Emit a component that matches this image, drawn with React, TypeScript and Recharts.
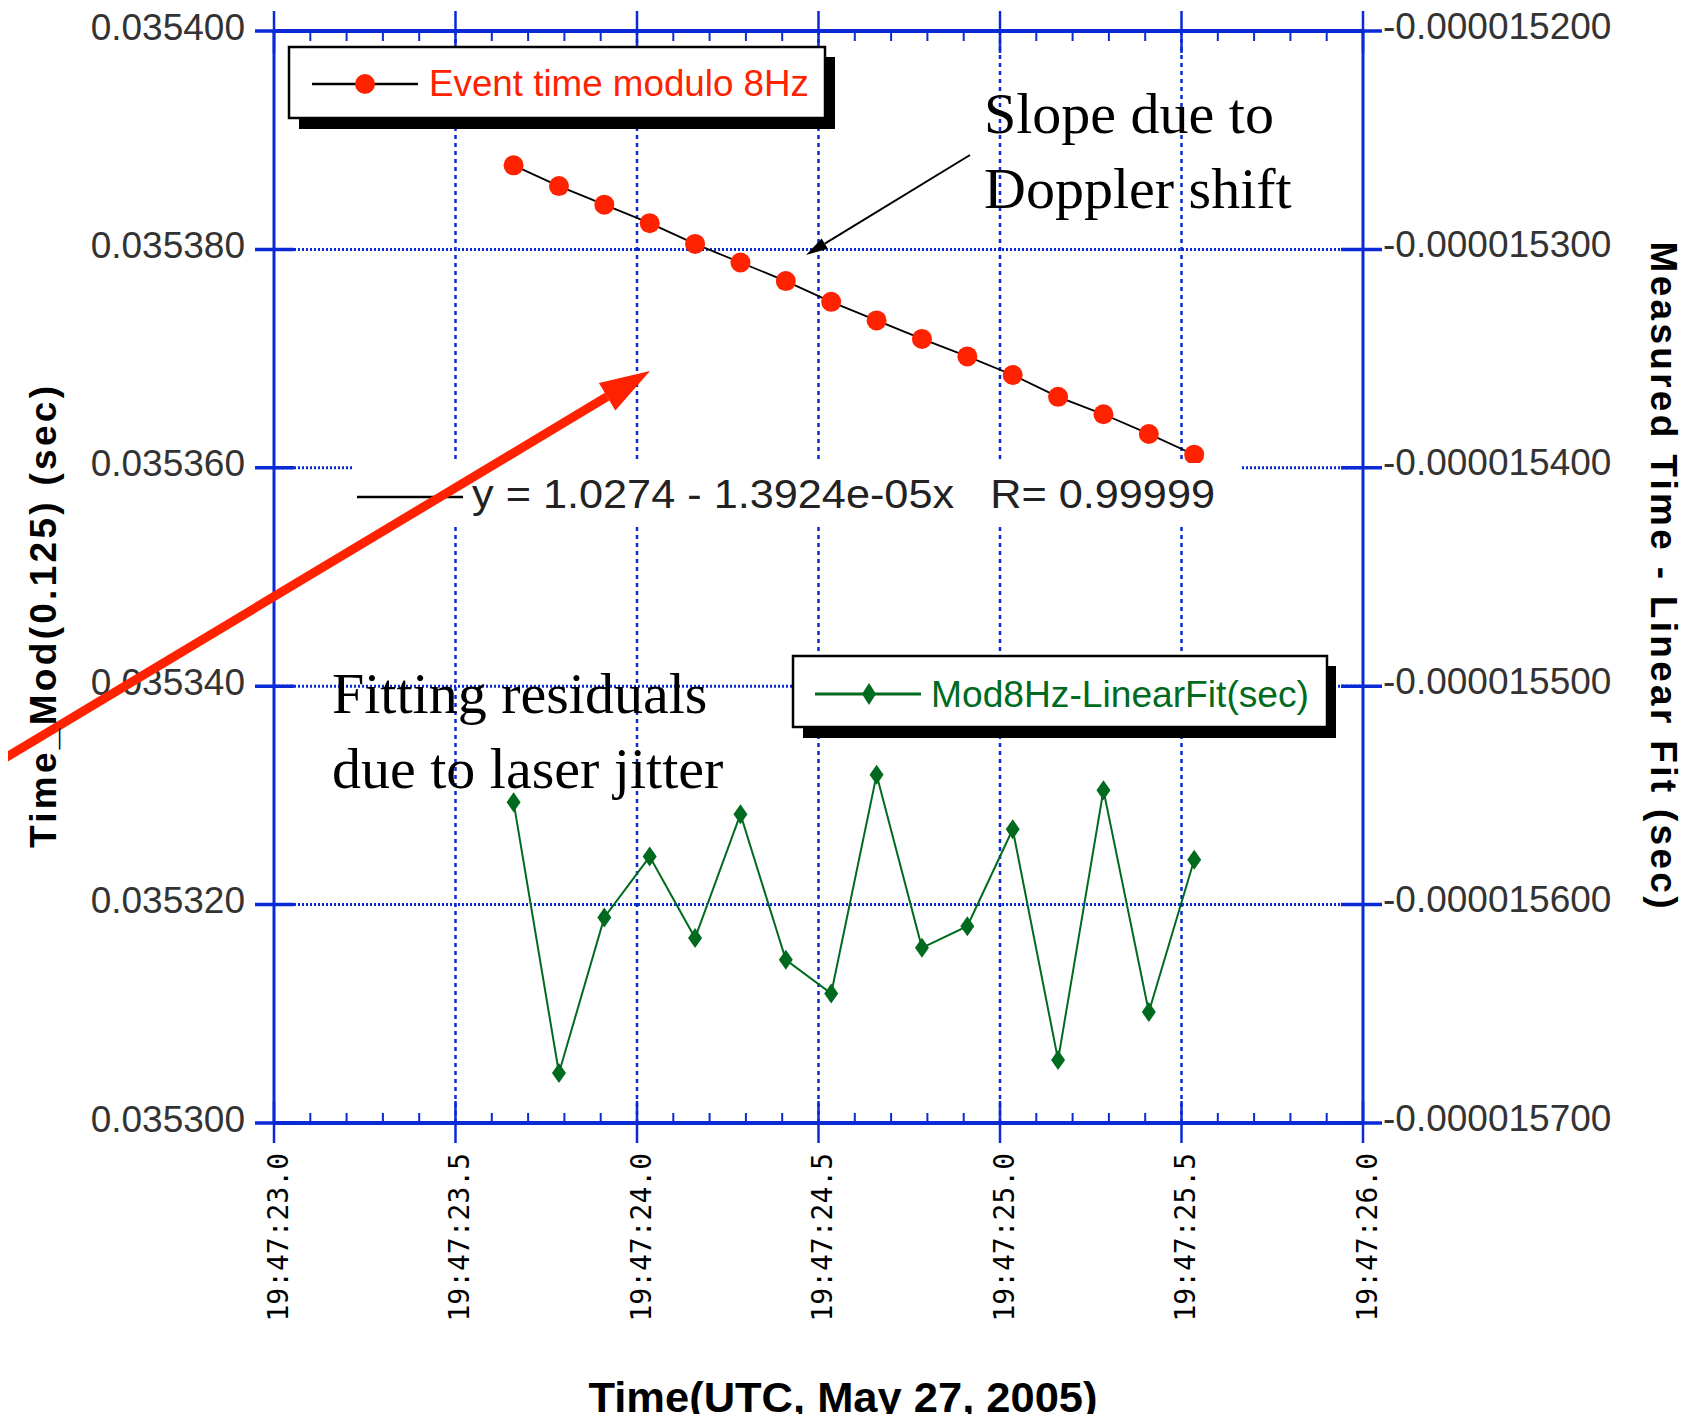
import { ComposedChart, Line, XAxis, YAxis, ReferenceLine } from 'recharts';

const BLUE = '#0a2ad6';
const RED = '#ff2200';
const GREEN = '#006b1e';
const SANS = '"Liberation Sans", Arial, Helvetica, sans-serif';
const SERIF = '"Liberation Serif", "Times New Roman", serif';

// seconds past 19:47:00 UTC
const TIMES = [23.66, 23.785, 23.91, 24.035, 24.16, 24.285, 24.41, 24.535, 24.66, 24.785, 24.91, 25.035, 25.16, 25.285, 25.41, 25.535];
const EVENT_MOD = [0.0353877, 0.0353858, 0.0353841, 0.0353824, 0.0353805, 0.0353788, 0.0353771, 0.0353752, 0.0353735, 0.0353718, 0.0353702, 0.0353685, 0.0353665, 0.0353649, 0.0353631, 0.0353612];
const RESIDUAL = [-1.55531e-5, -1.56771e-5, -1.56059e-5, -1.5578e-5, -1.56153e-5, -1.55586e-5, -1.56253e-5, -1.56407e-5, -1.55406e-5, -1.56198e-5, -1.56099e-5, -1.55655e-5, -1.56711e-5, -1.55476e-5, -1.56492e-5, -1.55795e-5];

const X_MAJOR = [23.0, 23.5, 24.0, 24.5, 25.0, 25.5, 26.0];
const X_MINOR = [23.1, 23.2, 23.3, 23.4, 23.6, 23.7, 23.8, 23.9, 24.1, 24.2, 24.3, 24.4, 24.6, 24.7, 24.8, 24.9, 25.1, 25.2, 25.3, 25.4, 25.6, 25.7, 25.8, 25.9];
const LEFT_TICKS = [0.0353, 0.03532, 0.03534, 0.03536, 0.03538, 0.0354];
const RIGHT_TICKS = [-0.0000157, -0.0000156, -0.0000155, -0.0000154, -0.0000153, -0.0000152];

const X_TICKS = [...X_MAJOR, ...X_MINOR].sort((a, b) => a - b);
const GRID_X = X_MAJOR.slice(1, -1);
const GRID_Y = LEFT_TICKS.slice(1, -1);

const data = TIMES.map((t, i) => ({ t, ev: EVENT_MOD[i], res: RESIDUAL[i] }));

const isMajor = (v: number) => X_MAJOR.some((m) => Math.abs(m - v) < 1e-6);

function BottomTick(props: any) {
  const { x, y, payload } = props;
  const v = payload.value;
  if (!isMajor(v)) return <line x1={x} x2={x} y1={y} y2={y - 10} stroke={BLUE} strokeWidth={2} />;
  const lx = x + 4;
  const ly = y + 30;
  return (
    <g>
      <line x1={x} x2={x} y1={y - 22} y2={y + 20} stroke={BLUE} strokeWidth={2.5} />
      <text
        x={lx}
        y={ly}
        transform={`rotate(-90 ${lx} ${ly})`}
        textAnchor="end"
        dominantBaseline="central"
        fontFamily='"DejaVu Sans Mono", monospace'
        fontSize={28}
        fill="#000"
      >
        {`19:47:${v.toFixed(1)}`}
      </text>
    </g>
  );
}

function TopTick(props: any) {
  const { x, y, payload } = props;
  if (!isMajor(payload.value)) return <line x1={x} x2={x} y1={y} y2={y + 10} stroke={BLUE} strokeWidth={2} />;
  return <line x1={x} x2={x} y1={y - 20} y2={y + 22} stroke={BLUE} strokeWidth={2.5} />;
}

function LeftTick(props: any) {
  const { x, y, payload } = props;
  return (
    <g>
      <line x1={x - 19} x2={x + 20} y1={y} y2={y} stroke={BLUE} strokeWidth={3.5} />
      <text x={x - 29} y={y - 4} textAnchor="end" dominantBaseline="central" fontFamily={SANS} fontSize={37} fill="#333">
        {payload.value.toFixed(6)}
      </text>
    </g>
  );
}

function RightTick(props: any) {
  const { x, y, payload } = props;
  return (
    <g>
      <line x1={x - 22} x2={x + 19} y1={y} y2={y} stroke={BLUE} strokeWidth={3.5} />
      <text x={x + 20} y={y - 5} textAnchor="start" dominantBaseline="central" fontFamily={SANS} fontSize={37} fill="#333">
        {payload.value.toFixed(9)}
      </text>
    </g>
  );
}

const RedDot = (p: any) => <circle key={`r${p.index}`} cx={p.cx} cy={p.cy} r={10} fill={RED} />;
const GreenDot = (p: any) => (
  <path
    key={`g${p.index}`}
    d={`M${p.cx},${p.cy - 10}L${p.cx + 7},${p.cy}L${p.cx},${p.cy + 10}L${p.cx - 7},${p.cy}Z`}
    fill={GREEN}
  />
);

function arrowHead(x1: number, y1: number, x2: number, y2: number, len: number, half: number) {
  const d = Math.hypot(x2 - x1, y2 - y1);
  const ux = (x2 - x1) / d;
  const uy = (y2 - y1) / d;
  const bx = x2 - ux * len;
  const by = y2 - uy * len;
  return {
    base: [bx, by],
    points: `${x2},${y2} ${bx - uy * half},${by + ux * half} ${bx + uy * half},${by - ux * half}`,
  };
}

function Overlay() {
  const red = arrowHead(-20, 773, 650, 371, 50, 16);
  const blk = arrowHead(970, 155, 806, 255, 22, 6);
  return (
    <svg width={1705} height={1422} style={{ position: 'absolute', left: 0, top: 0, pointerEvents: 'none' }}>
      {/* legend: event time */}
      <rect x={299} y={57} width={536} height={72} fill="#000" />
      <rect x={289} y={47} width={536} height={71} fill="#fff" stroke="#000" strokeWidth={2.5} />
      <line x1={312} x2={418} y1={84} y2={84} stroke="#000" strokeWidth={2.5} />
      <circle cx={365} cy={84} r={10} fill={RED} />
      <text x={429} y={96} fontFamily={SANS} fontSize={37} fill={RED} textLength={380} lengthAdjust="spacingAndGlyphs">
        Event time modulo 8Hz
      </text>

      {/* legend: residuals */}
      <rect x={803} y={666} width={533} height={72} fill="#000" />
      <rect x={793} y={656} width={534} height={71} fill="#fff" stroke="#000" strokeWidth={2.5} />
      <line x1={815} x2={921} y1={694} y2={694} stroke={GREEN} strokeWidth={3} />
      <path d="M869,683L876,694L869,705L862,694Z" fill={GREEN} />
      <text x={931} y={707} fontFamily={SANS} fontSize={37} fill={GREEN} textLength={378} lengthAdjust="spacingAndGlyphs">
        Mod8Hz-LinearFit(sec)
      </text>

      {/* fit equation */}
      <rect x={352} y={463} width={888} height={64} fill="#fff" />
      <line x1={357} x2={463} y1={497} y2={497} stroke="#000" strokeWidth={2.5} />
      <text x={472} y={508} fontFamily={SANS} fontSize={41} fill="#222" textLength={743} lengthAdjust="spacingAndGlyphs" style={{ whiteSpace: 'pre' }}>
        {'y = 1.0274 - 1.3924e-05x   R= 0.99999'}
      </text>

      {/* annotations */}
      <text fontFamily={SERIF} fontSize={58} fill="#000">
        <tspan x={984} y={133}>Slope due to</tspan>
        <tspan x={984} y={208}>Doppler shift</tspan>
      </text>
      <text fontFamily={SERIF} fontSize={58} fill="#000">
        <tspan x={332} y={713}>Fitting residuals</tspan>
        <tspan x={332} y={788}>due to laser jitter</tspan>
      </text>
      <line x1={970} y1={155} x2={blk.base[0]} y2={blk.base[1]} stroke="#000" strokeWidth={2} />
      <polygon points={blk.points} fill="#000" />
      <line x1={-20} y1={773} x2={red.base[0]} y2={red.base[1]} stroke={RED} strokeWidth={9} />
      <polygon points={red.points} fill={RED} />

      {/* axis titles */}
      <text
        transform="translate(43 617) rotate(-90)"
        textAnchor="middle"
        dominantBaseline="central"
        fontFamily={SANS}
        fontWeight="bold"
        fontSize={37}
        fill="#000"
        textLength={462}
        lengthAdjust="spacing"
      >
        Time_Mod(0.125) (sec)
      </text>
      <text
        transform="translate(1663 575) rotate(90)"
        textAnchor="middle"
        dominantBaseline="central"
        fontFamily={SANS}
        fontWeight="bold"
        fontSize={37}
        fill="#000"
        textLength={667}
        lengthAdjust="spacing"
      >
        Measured Time - Linear Fit (sec)
      </text>
      <text
        x={843}
        y={1397}
        textAnchor="middle"
        dominantBaseline="central"
        fontFamily={SANS}
        fontWeight="bold"
        fontSize={42}
        fill="#000"
        textLength={509}
        lengthAdjust="spacingAndGlyphs"
      >
        Time(UTC, May 27, 2005)
      </text>
    </svg>
  );
}

export default function App() {
  return (
    <div style={{ position: 'relative', width: 1705, height: 1422, margin: -8, background: '#fff', fontFamily: SANS }}>
      <ComposedChart width={1705} height={1422} data={data} margin={{ top: 11, right: 142, bottom: 99, left: 94 }}>
        {GRID_X.map((v) => (
          <ReferenceLine key={`gx${v}`} xAxisId="b" yAxisId="L" x={v} stroke={BLUE} strokeWidth={2.5} strokeDasharray="4 4" />
        ))}
        {GRID_Y.map((v) => (
          <ReferenceLine key={`gy${v}`} xAxisId="b" yAxisId="L" y={v} stroke={BLUE} strokeWidth={3} strokeDasharray="2 2" />
        ))}
        <XAxis
          xAxisId="b"
          dataKey="t"
          type="number"
          domain={[23, 26]}
          ticks={X_TICKS}
          interval={0}
          allowDataOverflow
          height={200}
          tickSize={0}
          tickMargin={0}
          tickLine={false}
          tick={(p: any) => <BottomTick {...p} />}
          axisLine={{ stroke: BLUE, strokeWidth: 4 }}
        />
        <XAxis
          xAxisId="top"
          orientation="top"
          dataKey="t"
          type="number"
          domain={[23, 26]}
          ticks={X_TICKS}
          interval={0}
          allowDataOverflow
          height={20}
          tickSize={0}
          tickMargin={0}
          tickLine={false}
          tick={(p: any) => <TopTick {...p} />}
          axisLine={{ stroke: BLUE, strokeWidth: 4 }}
        />
        <YAxis
          yAxisId="L"
          type="number"
          domain={[0.0353, 0.0354]}
          ticks={LEFT_TICKS}
          interval={0}
          allowDataOverflow
          width={180}
          tickSize={0}
          tickMargin={0}
          tickLine={false}
          tick={(p: any) => <LeftTick {...p} />}
          axisLine={{ stroke: BLUE, strokeWidth: 3 }}
        />
        <YAxis
          yAxisId="R"
          orientation="right"
          type="number"
          domain={[-0.0000157, -0.0000152]}
          ticks={RIGHT_TICKS}
          interval={0}
          allowDataOverflow
          width={200}
          tickSize={0}
          tickMargin={0}
          tickLine={false}
          tick={(p: any) => <RightTick {...p} />}
          axisLine={{ stroke: BLUE, strokeWidth: 3 }}
        />
        <Line
          xAxisId="b"
          yAxisId="L"
          dataKey="ev"
          name="Event time modulo 8Hz"
          stroke="#000"
          strokeWidth={1.8}
          dot={RedDot}
          activeDot={false}
          isAnimationActive={false}
        />
        <Line
          xAxisId="b"
          yAxisId="R"
          dataKey="res"
          name="Mod8Hz-LinearFit(sec)"
          stroke={GREEN}
          strokeWidth={2}
          dot={GreenDot}
          activeDot={false}
          isAnimationActive={false}
        />
      </ComposedChart>
      <Overlay />
    </div>
  );
}
